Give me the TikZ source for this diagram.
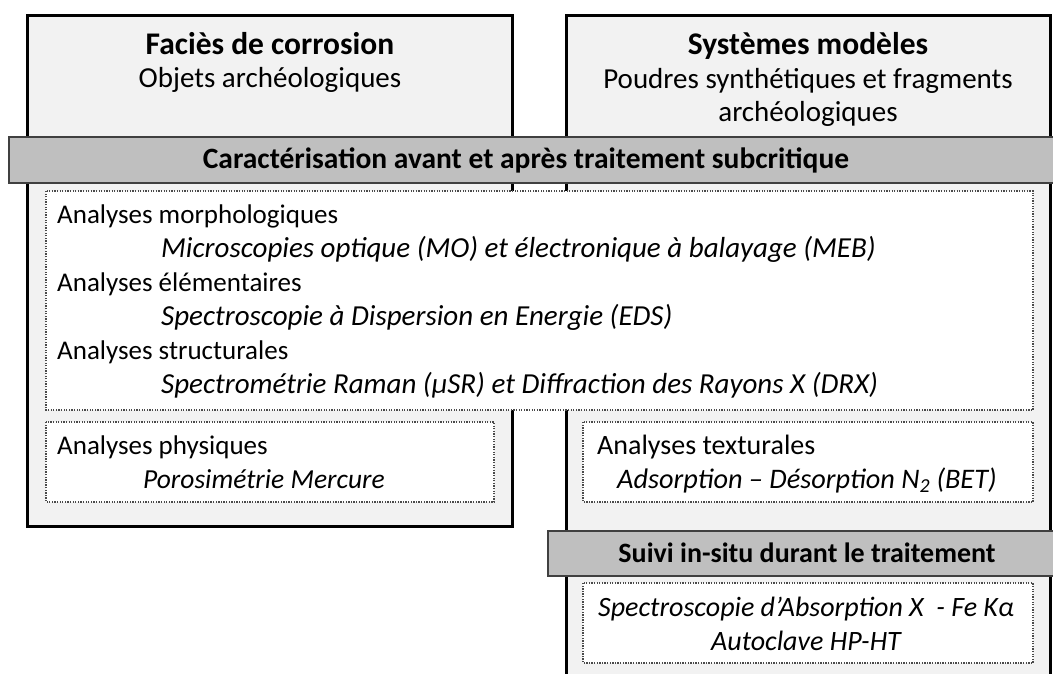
\documentclass[tikz,border=0pt]{standalone}
\usepackage{fontspec}
\setmainfont{Carlito}
\definecolor{boxfill}{HTML}{F2F2F2}
\definecolor{bandfill}{HTML}{BFBFBF}
\definecolor{bandline}{HTML}{404040}
\definecolor{dotline}{HTML}{4A4A4A}
\tikzset{
  bigbox/.style={draw=black, fill=boxfill, line width=3pt},
  band/.style={draw=bandline, fill=bandfill, line width=1.5pt},
  dotbox/.style={draw=dotline, fill=white, line width=1.2pt, dash pattern=on 1.3pt off 1.3pt},
  title/.style={inner sep=0pt, anchor=base, font=\fontsize{31.5}{38}\selectfont\bfseries},
  sub/.style={inner sep=0pt, anchor=base, font=\fontsize{29}{35}\selectfont},
  bandtxt/.style={inner sep=0pt, anchor=base, font=\fontsize{29.5}{35}\selectfont\bfseries},
  bandtxtb/.style={inner sep=0pt, anchor=base, font=\fontsize{28}{34}\selectfont\bfseries},
  head/.style={inner sep=0pt, anchor=base west, font=\fontsize{27}{33}\selectfont},
  headb/.style={inner sep=0pt, anchor=base west, font=\fontsize{28}{34}\selectfont},
  tech/.style={inner sep=0pt, anchor=base west, font=\fontsize{29}{35}\selectfont\itshape},
  techp/.style={inner sep=0pt, anchor=base west, font=\fontsize{27.5}{33}\selectfont\itshape},
  techb/.style={inner sep=0pt, anchor=base west, font=\fontsize{28.3}{34}\selectfont\itshape},
  techc/.style={inner sep=0pt, anchor=base, font=\fontsize{28}{34}\selectfont\itshape},
}
\begin{document}
\begin{tikzpicture}[x=1pt,y=-1pt]
\useasboundingbox (0,0) rectangle (1053,674);
\clip (0,0) rectangle (1053,674);
% big boxes
\draw[bigbox] (27,16) rectangle (512,526);
\draw[bigbox] (566,16) rectangle (1050,700);
% band 1
\draw[band] (9,137) rectangle (1065,183);
% dotted boxes
\draw[dotbox] (46,191) rectangle (1033,410);
\draw[dotbox] (46,422) rectangle (494,502);
\draw[dotbox] (583,422) rectangle (1033,502);
% band 2
\draw[band] (548,531) rectangle (1065,576);
\draw[dotbox] (583,583) rectangle (1033,663);
% titles
\node[title] (t1) at (270,55) {Faciès de corrosion};
\node[sub] (s1) at (270,88) {Objets archéologiques};
\node[title] (t2) at (808,55) {Systèmes modèles};
\node[sub] (s2) at (808,89) {Poudres synthétiques et fragments};
\node[sub] (s3) at (808,122) {archéologiques};
\node[bandtxt] (b1) at (526,169) {Caractérisation avant et après traitement subcritique};
% analyses
\node[head] (h1) at (57,223) {Analyses morphologiques};
\node[tech] (m1) at (161,257) {Microscopies optique (MO) et électronique à balayage (MEB)};
\node[head] (h2) at (57,291) {Analyses élémentaires};
\node[tech] (m2) at (161,325) {Spectroscopie à Dispersion en Energie (EDS)};
\node[head] (h3) at (57,359) {Analyses structurales};
\node[tech] (m3) at (161,393) {Spectrométrie Raman (µSR) et Diffraction des Rayons X (DRX)};
\node[head] (h4) at (57,454) {Analyses physiques};
\node[techp] (m4) at (143,488) {Porosimétrie Mercure};
\node[headb] (h5) at (597,454) {Analyses texturales};
\node[techb] (m5) at (617,488) {Adsorption – Désorption N\textsubscript{2} (BET)};
\node[bandtxtb] (b2) at (807,562) {Suivi in-situ durant le traitement};
\node[techc] (m6) at (806,616) {Spectroscopie d’Absorption X\ \ - Fe Kα};
\node[techc] (m7) at (806,650) {Autoclave HP-HT};
\end{tikzpicture}
\end{document}
